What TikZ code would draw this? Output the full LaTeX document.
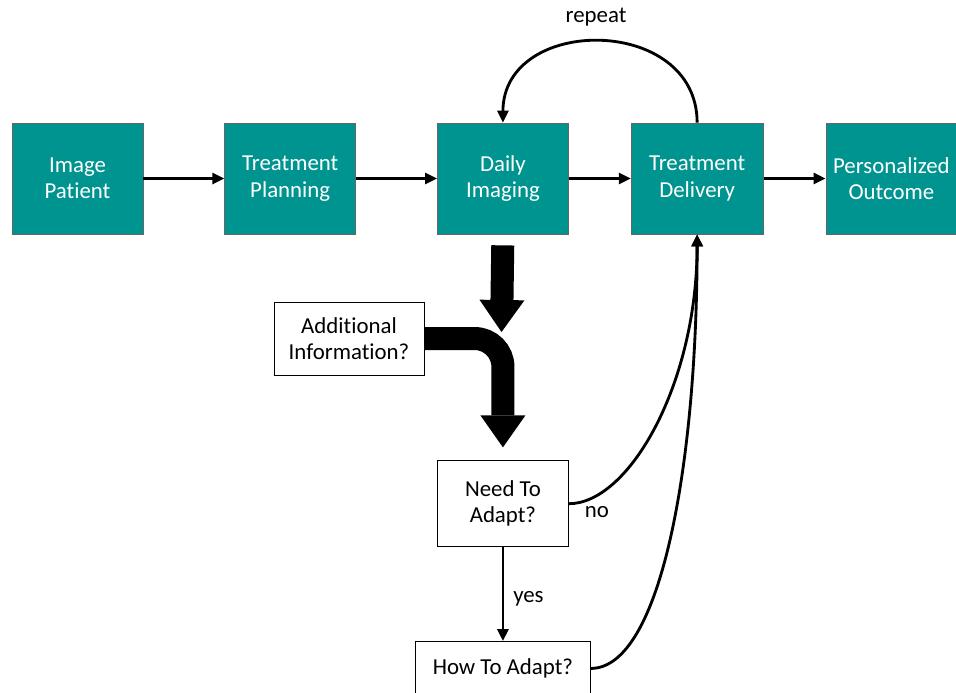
\documentclass[tikz,border=0pt]{standalone}
\usepackage{fontspec}
\setmainfont{Carlito}[Ligatures=NoCommon]
\usetikzlibrary{positioning, arrows.meta}
\definecolor{stageteal}{RGB}{0,148,144}

\begin{document}
\begin{tikzpicture}[
            x=0.03cm, y=-0.03cm,
            every node/.style = {
                shape=rectangle, align=center,
                font=\fontsize{19.5}{22.5}\selectfont
            }
        ]
        \tikzstyle{stage}=[fill=stageteal, draw=black!60, line width=0.6pt, text=white,
            minimum width=3.93cm, minimum height=3.33cm, inner sep=0pt]
        \tikzstyle{query}=[fill=white, draw=black, line width=0.6pt, inner sep=0pt]
        \tikzstyle{flow}=[line width=0.085cm, -{Triangle[length=0.36cm, width=0.33cm]}]
        \tikzstyle{fat}=[line width=0.69cm, -{Triangle[length=0.96cm, width=1.35cm, line width=0pt]}]

            \useasboundingbox (0,0) rectangle (956,692);

            \node[stage] (img) at (77.5,178.5) {Image\\Patient};
            \node[stage, right=2.43cm of img] (plan) {Treatment\\Planning};
            \node[stage, right=2.43cm of plan] (daily) {Daily\\Imaging};
            \node[stage, right=1.86cm of daily, minimum width=3.96cm] (deliv) {Treatment\\Delivery};
            \node[stage, right=1.86cm of deliv] (outc) {Personalized\\Outcome};

            \node[query, minimum width=4.5cm, minimum height=2.19cm] (info) at (349,338.5) {Additional\\Information?};
            \node[query, minimum width=3.93cm, minimum height=2.58cm, below=6.78cm of daily] (need) {Need To\\Adapt?};
            \node[query, minimum width=5.25cm, minimum height=1.62cm, below=2.82cm of need] (how) {How To Adapt?};
            \coordinate (merge) at (501.5,332);

            \draw[flow] (img) -- (plan);
            \draw[flow] (plan) -- (daily);
            \draw[flow] (daily) -- (deliv);
            \draw[flow] (deliv) -- (outc);

            \draw[flow] (deliv.north) .. controls +(0,-108) and +(0,-108) .. (daily.north);
            \node (rep) at (596,17) {repeat};

            \draw[fat, shorten <=0.33cm] (daily.south) -- (merge);
            \draw[fat, rounded corners=0.85cm] (info.east) -| ([yshift=0.39cm]need.north);

            \draw[flow] (need.east) .. controls +(60,0) and +(0,150) .. (deliv.south);
            \node (no) at (597,512) {no};
            \draw[flow] (how.east) .. controls +(70,0) and +(0,230) .. (deliv.south);
            \draw[flow] (need) -- node[right=0.15cm, yshift=-0.15cm] (yes) {yes} (how);
        \end{tikzpicture}
\end{document}
